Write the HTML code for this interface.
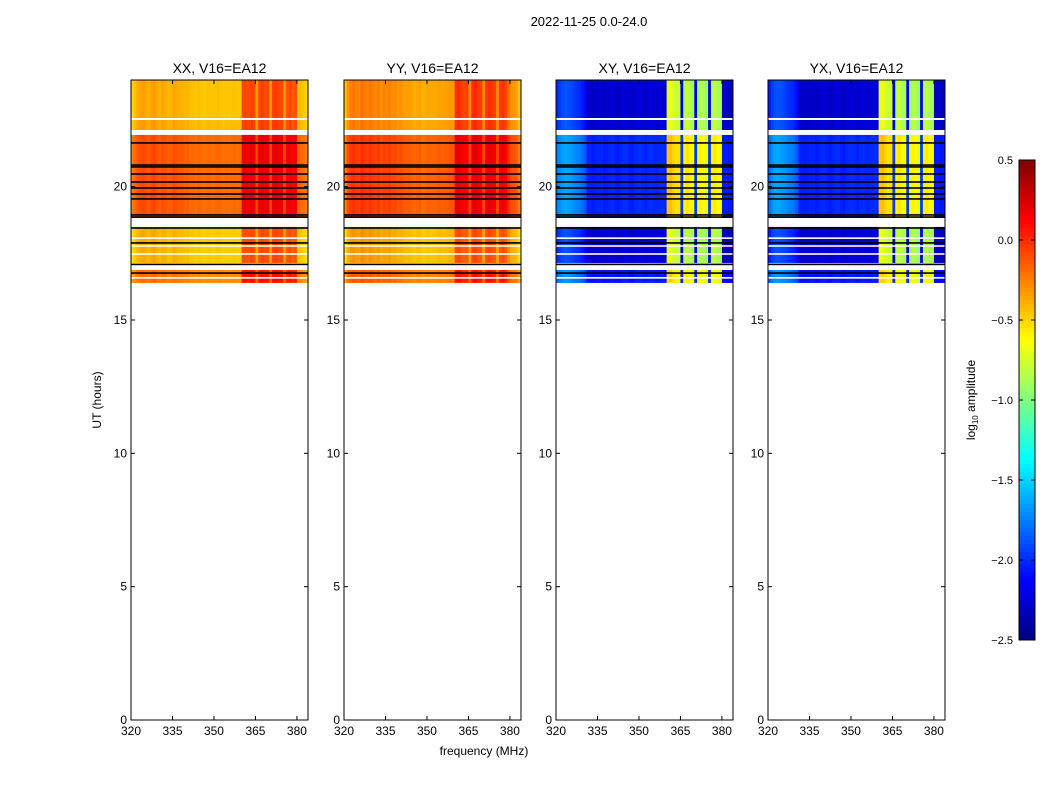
<!DOCTYPE html>
<html><head><meta charset="utf-8">
<style>
body{margin:0;background:#fff;}
svg{display:block;font-family:"Liberation Sans",sans-serif;}
</style></head>
<body>
<svg id="chart" width="1050" height="800" viewBox="0 0 1050 800">
<text x="589" y="26" font-size="13" text-anchor="middle">2022-11-25 0.0-24.0</text>
<g id="panels"></g>
<g id="cbar"></g>
<text x="975" y="400" font-size="12" text-anchor="middle" transform="rotate(-90 975 400)">log<tspan font-size="8" dy="3">10</tspan><tspan dy="-3"> amplitude</tspan></text>
<text x="484" y="755" font-size="12" text-anchor="middle">frequency (MHz)</text>
<text x="101" y="400" font-size="12" text-anchor="middle" transform="rotate(-90 101 400)">UT (hours)</text>
</svg>
<script>
// ---- data ----
const titles = ["XX, V16=EA12","YY, V16=EA12","XY, V16=EA12","YX, V16=EA12"];
const xTicks = [320,335,350,365,380];
const yTicks = [0,5,10,15,20];
const cbTicks = [0.5,0.0,-0.5,-1.0,-1.5,-2.0,-2.5];
const segStart = [22.575,22.125,18.825,17.14,16.39];
const segEnd   = [24.0,  22.5,  21.94, 18.49,16.875];
const blackLines = [21.64,20.81,20.74,20.475,20.175,19.95,19.725,19.54,18.94,18.86,18.45,17.89,17.085,16.76];
const whiteLines = [18.07,17.775,17.475,16.58];
const profXX = [-0.5,-0.45,-0.38,-0.36,-0.34,-0.37,-0.4,-0.35,-0.33,-0.38,-0.4,-0.36,-0.38,-0.42,-0.4,-0.36,-0.38,-0.4,-0.39,-0.42,-0.41,-0.44,-0.44,-0.46,-0.43,-0.45,-0.47,-0.45,-0.44,-0.46,-0.45,-0.43,-0.45,-0.47,-0.45,-0.46,-0.45,-0.44,-0.46,-0.45,-0.08,-0.08,-0.1,-0.06,-0.08,-0.32,-0.08,-0.05,-0.1,-0.08,-0.32,-0.06,-0.05,-0.08,-0.08,-0.32,-0.12,-0.08,-0.14,-0.1,-0.42,-0.44,-0.47,-0.5];
const profYY = [-0.45,-0.3,-0.25,-0.22,-0.25,-0.27,-0.2,-0.24,-0.26,-0.22,-0.25,-0.28,-0.24,-0.3,-0.26,-0.28,-0.25,-0.3,-0.28,-0.32,-0.3,-0.33,-0.35,-0.34,-0.36,-0.38,-0.36,-0.35,-0.4,-0.38,-0.36,-0.38,-0.37,-0.36,-0.34,-0.36,-0.35,-0.34,-0.32,-0.33,-0.02,0.0,-0.05,-0.08,-0.06,-0.28,-0.02,0.02,-0.04,-0.06,-0.28,-0.04,0.0,-0.03,-0.06,-0.28,-0.05,-0.02,-0.08,-0.2,-0.3,-0.32,-0.36,-0.45];
const profXY = [-2.0,-1.95,-1.9,-1.88,-1.9,-1.92,-1.95,-1.98,-2.0,-2.05,-2.1,-2.28,-2.28,-2.3,-2.28,-2.27,-2.27,-2.3,-2.28,-2.26,-2.25,-2.28,-2.3,-2.27,-2.25,-2.24,-2.28,-2.3,-2.26,-2.25,-2.24,-2.26,-2.28,-2.25,-2.24,-2.26,-2.27,-2.25,-2.24,-2.26,-0.7,-0.68,-0.75,-0.8,-0.78,-2.2,-0.85,-0.8,-0.85,-0.9,-2.2,-0.9,-0.85,-0.88,-0.95,-2.2,-0.85,-0.82,-0.88,-0.9,-2.3,-2.3,-2.32,-2.3];
const profYX = [-2.05,-1.95,-1.9,-1.88,-1.9,-1.92,-1.95,-1.98,-2.0,-2.05,-2.1,-2.28,-2.28,-2.3,-2.28,-2.27,-2.27,-2.3,-2.28,-2.26,-2.25,-2.28,-2.3,-2.27,-2.25,-2.24,-2.28,-2.3,-2.26,-2.25,-2.24,-2.26,-2.28,-2.25,-2.24,-2.26,-2.27,-2.25,-2.24,-2.26,-0.7,-0.68,-0.75,-0.8,-0.78,-2.2,-0.85,-0.8,-0.85,-0.9,-2.2,-0.9,-0.85,-0.88,-0.95,-2.2,-0.85,-0.82,-0.88,-0.9,-2.3,-2.3,-2.32,-2.3];
const segOffXX = [0,0.02,0.26,-0.02,0.16];
const segOffYY = [0,0.0,0.2,-0.08,0.1];
const segOffXY = [0,0.02,0.25,0.0,0.2];
const segOffYX = [0,0.02,0.25,0.0,0.2];
const profiles = [profXX,profYY,profXY,profYX];
const segOffs = [segOffXX,segOffYY,segOffXY,segOffYX];
const panelLeft = [131,344,556,768];
const fMin=320,fMax=384,chW=1;

// ---- helpers ----
const NS="http://www.w3.org/2000/svg";
function mk(tag,attrs,parent){const e=document.createElementNS(NS,tag);for(const k in attrs)e.setAttribute(k,attrs[k]);parent.appendChild(e);return e;}
function jet(t){t=Math.max(0,Math.min(1,t));
 const c=x=>Math.round(255*Math.max(0,Math.min(1,x)));
 const r=c(Math.min(4*t-1.5,-4*t+4.5)),g=c(Math.min(4*t-0.5,-4*t+3.5)),b=c(Math.min(4*t+0.5,-4*t+2.5));
 return `rgb(${r},${g},${b})`;}
const vmin=-2.5,vmax=0.5;
const plotTop=80,plotBot=720,pw=177;
const yS=h=>plotBot-(h/24)*(plotBot-plotTop);
const panelsG=document.getElementById('panels');

for(let p=0;p<4;p++){
 const L=panelLeft[p];
 const xS=f=>L+(f-fMin)/(fMax-fMin)*pw;
 const g=mk('g',{},panelsG);
 
 
 const prof=profiles[p],off=segOffs[p];
 for(let s=0;s<segStart.length;s++){
  const y0=yS(segEnd[s]),y1=yS(segStart[s]);
  for(let i=0;i<prof.length;i++){
   const f=fMin+i*chW;
   const v=prof[i]+off[s];
   const r=mk('rect',{x:xS(f),y:y0,width:xS(f+chW)-xS(f)+0.4,height:y1-y0,fill:jet((v-vmin)/(vmax-vmin))},g);
   
   
  }
 }
 blackLines.forEach(h=>{const l=mk('rect',{x:L,y:yS(h)-0.8,width:pw,height:1.6,fill:'#000'},g);
  
  });
 whiteLines.forEach(h=>{const l=mk('rect',{x:L,y:yS(h)-0.8,width:pw,height:1.6,fill:'#fff'},g);
  
  });
 const fr=mk('rect',{x:L,y:plotTop,width:pw,height:plotBot-plotTop,fill:'none',stroke:'#000','stroke-width':1},g);
 
 
 const t=mk('text',{x:L+pw/2,y:73,'font-size':14,'text-anchor':'middle'},g);t.textContent=titles[p];
 
 
 xTicks.forEach(v=>{const x=xS(v);
  mk('line',{x1:x,y1:plotBot,x2:x,y2:plotBot-4,stroke:'#000'},g);mk('line',{x1:x,y1:plotTop,x2:x,y2:plotTop+4,stroke:'#000'},g);
  const tx=mk('text',{x:x,y:plotBot+15,'font-size':12,'text-anchor':'middle'},g);tx.textContent=v;
  
  });
 yTicks.forEach(v=>{const y=yS(v);
  mk('line',{x1:L,y1:y,x2:L+4,y2:y,stroke:'#000'},g);mk('line',{x1:L+pw,y1:y,x2:L+pw-4,y2:y,stroke:'#000'},g);
  const tx=mk('text',{x:L-4,y:y+4,'font-size':12,'text-anchor':'end'},g);tx.textContent=v;
  
  });
}
// colorbar
const cb=document.getElementById('cbar');


const cbT=160,cbB=640,cbL=1019,cbW=16;
const cbY=v=>cbB-(v-vmin)/(vmax-vmin)*(cbB-cbT);
for(let i=0;i<120;i++){const y0=cbT+i*(cbB-cbT)/120;const v=vmax-(i+0.5)/120*(vmax-vmin);
 mk('rect',{x:cbL,y:y0,width:cbW,height:(cbB-cbT)/120+0.5,fill:jet((v-vmin)/(vmax-vmin))},cb);}
mk('rect',{x:cbL,y:cbT,width:cbW,height:cbB-cbT,fill:'none',stroke:'#000','stroke-width':1},cb);
cbTicks.forEach(v=>{const y=cbY(v);
 mk('line',{x1:cbL,y1:y,x2:cbL+4,y2:y,stroke:'#000'},cb);mk('line',{x1:cbL+cbW,y1:y,x2:cbL+cbW-4,y2:y,stroke:'#000'},cb);
 const tx=mk('text',{x:1013,y:y+4,'font-size':11,'text-anchor':'end'},cb);tx.textContent=v.toFixed(1).replace('-','\u2212');
 
 });
</script>
</body></html>
